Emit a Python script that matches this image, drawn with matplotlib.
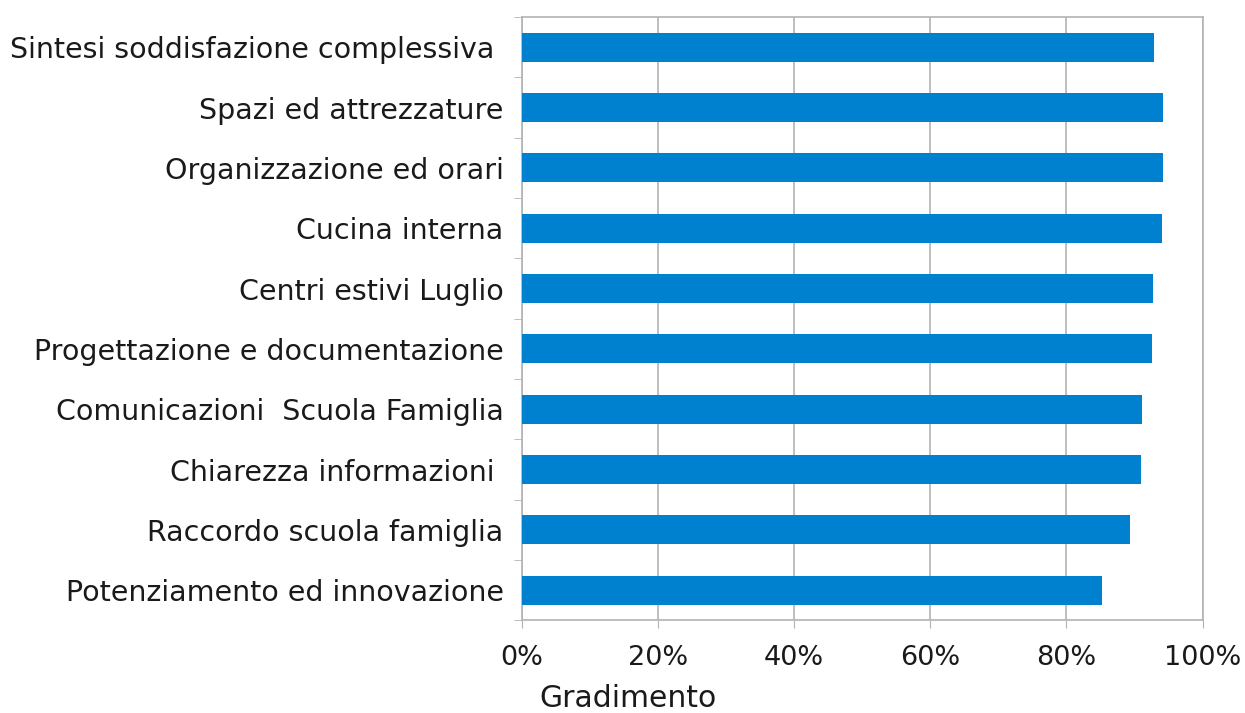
import matplotlib
matplotlib.use("Agg")
from matplotlib import pyplot as plt
from matplotlib.ticker import PercentFormatter
import numpy as np

plt.rcParams['font.family'] = ['DejaVu Sans']

# dati (dall'alto verso il basso)
categorie = [
    "Sintesi soddisfazione complessiva ",
    "Spazi ed attrezzature",
    "Organizzazione ed orari",
    "Cucina interna",
    "Centri estivi Luglio",
    "Progettazione e documentazione",
    "Comunicazioni  Scuola Famiglia",
    "Chiarezza informazioni ",
    "Raccordo scuola famiglia",
    "Potenziamento ed innovazione",
]
gradimento = [92.9, 94.2, 94.2, 94.0, 92.7, 92.5, 91.1, 91.0, 89.3, 85.2]
x_ticks = [0, 20, 40, 60, 80, 100]

colore = "#0081CF"
grigio = "#B3B3B3"

fig = plt.figure(figsize=(12.45, 7.13), dpi=100)
ax = fig.add_axes([0.419, 0.130, 0.547, 0.846])

y = np.arange(len(categorie))[::-1]
ax.barh(y, gradimento, height=0.48, color=colore, zorder=3)

ax.set_xlim(0, 100)
ax.set_ylim(-0.5, len(categorie) - 0.5)
ax.set_xticks(x_ticks)
ax.xaxis.set_major_formatter(PercentFormatter(decimals=0))
ax.set_yticks(y)
ax.set_yticklabels(categorie)
ax.set_yticks(np.arange(len(categorie) + 1) - 0.5, minor=True)

ax.tick_params(axis='y', which='major', length=0, pad=13, labelsize=20.5, labelcolor="#1a1a1a")
ax.tick_params(axis='y', which='minor', length=6, color=grigio, direction='out')
ax.tick_params(axis='x', length=6, color=grigio, direction='out', pad=12,
               labelsize=19.5, labelcolor="#1a1a1a")

ax.grid(axis='x', color=grigio, linewidth=1.2, zorder=0)
for s in ax.spines.values():
    s.set_color(grigio)
    s.set_linewidth(1.2)

ax.set_xlabel("Gradimento", fontsize=21.5, color="#1a1a1a")
ax.xaxis.set_label_coords(0.156, -0.105)

fig.savefig("out.png", dpi=100, facecolor="white")
